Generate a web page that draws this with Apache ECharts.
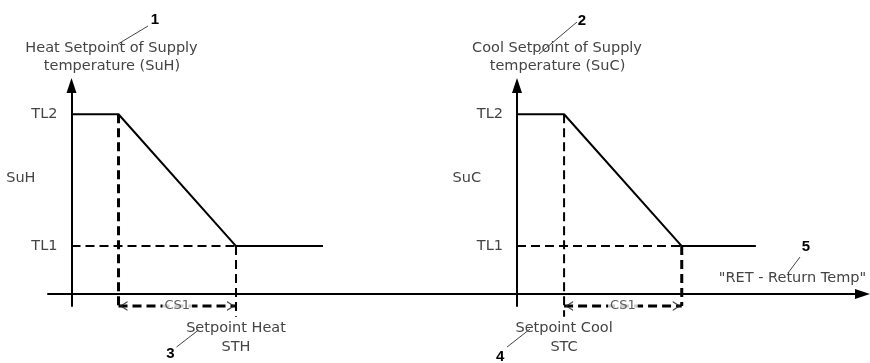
<!DOCTYPE html>
<html>
<head>
<meta charset="utf-8">
<script src="https://cdn.jsdelivr.net/npm/echarts@6/dist/echarts.min.js"></script>
<style>
  html, body { margin: 0; padding: 0; background: #fff; }
  #chart { width: 870px; height: 363px; }
</style>
</head>
<body>
<div id="chart"></div>
<script>
// Supply-temperature limits marked on both vertical axes
const limitNames = ['TL1', 'TL2'];
const limitValues = [4, 15];

// Heating: supply setpoint (SuH) against return temperature
const heatReturn = [0, 4, 14, 21.4];
const heatSupply = [15, 15, 4, 4];
const heatSetpoint = 14;   // STH
const heatBand = 10;       // CS1

// Cooling: supply setpoint (SuC) against return temperature
const coolReturn = [0, 4, 14, 20.3];
const coolSupply = [15, 15, 4, 4];
const coolSetpoint = 4;    // STC
const coolBand = 10;       // CS1

// How far the guide lines drop below the return-temperature axis
const dimLineY = -1;
const guideDrop = -1.9;

const FONT = '"DejaVu Sans", "Liberation Sans", Arial, sans-serif';
const TEXT = '#444';

const zip = (xs, ys) => xs.map((x, i) => [x, ys[i]]);
const tl1 = limitValues[0], tl2 = limitValues[1];

// thin open chevrons for the CS1 dimension line
const chevronLeft = 'path://M10,0 L0,5 L10,10 L10,8.4 L2.8,5 L10,1.6 Z';
const chevronRight = 'path://M0,0 L10,5 L0,10 L0,8.4 L7.2,5 L0,1.6 Z';

function axisPair(g, xMin, xMax, arrowX, labelMargin) {
  const lineStyle = { color: '#000', width: 2 };
  return {
    x: {
      gridIndex: g, type: 'value', min: xMin, max: xMax,
      axisLine: { show: true, onZero: true, lineStyle,
        symbol: arrowX ? ['none', 'triangle'] : 'none', symbolSize: [10, 15] },
      axisTick: { show: false }, axisLabel: { show: false }, splitLine: { show: false }
    },
    y: {
      gridIndex: g, type: 'value', min: -1, max: 17.4,
      axisLine: { show: true, onZero: true, lineStyle,
        symbol: ['none', 'triangle'], symbolSize: [10, 15] },
      axisTick: { show: false },
      splitLine: { show: false },
      axisLabel: {
        show: true, customValues: limitValues, margin: labelMargin,
        color: TEXT, fontSize: 14.5, fontFamily: FONT,
        formatter: v => limitNames[limitValues.indexOf(v)] || ''
      }
    }
  };
}

function dashed(g, pts, width, z) {
  return {
    type: 'line', xAxisIndex: g, yAxisIndex: g, data: pts, symbol: 'none',
    clip: false, silent: true, z: z || 2, animation: false,
    lineStyle: { color: '#000', width, type: [9, 5] }
  };
}

function panelSeries(g, xs, ys, lowX, highX, guideWidths, guideEnds) {
  return [
    dashed(g, [[0, tl1], [highX, tl1]], 2),
    dashed(g, [[lowX, tl2], [lowX, guideEnds[0]]], guideWidths[0]),
    dashed(g, [[highX, tl1], [highX, guideEnds[1]]], guideWidths[1]),
    dashed(g, [[lowX, dimLineY], [highX, dimLineY]], 3, 3),
    {
      type: 'scatter', xAxisIndex: g, yAxisIndex: g, clip: false, silent: true, z: 4,
      itemStyle: { color: '#222' },
      data: [
        { value: [lowX, dimLineY], symbol: chevronLeft, symbolSize: [8, 10], symbolOffset: [5, 0] },
        { value: [highX, dimLineY], symbol: chevronRight, symbolSize: [8, 10], symbolOffset: [-5, 0] }
      ]
    },
    {
      type: 'scatter', xAxisIndex: g, yAxisIndex: g, clip: false, silent: true, z: 5,
      symbolSize: 1, itemStyle: { color: 'rgba(0,0,0,0)' },
      data: [[(lowX + highX) / 2, dimLineY]],
      label: { show: true, position: 'inside', formatter: 'CS1', color: '#333',
        fontSize: 13, fontFamily: FONT, backgroundColor: '#fff', padding: [1, 2] }
    },
    {
      type: 'line', xAxisIndex: g, yAxisIndex: g, data: zip(xs, ys), symbol: 'none',
      clip: false, silent: true, z: 6, animation: false,
      lineStyle: { color: '#000', width: 2 }
    }
  ];
}

// tick labels are laid out from the grid edge; the left grid starts 23.5px before its axis
const left = axisPair(0, -2, 37.91, false, -9.5);
const right = axisPair(1, 0, 29.36, true, 14);

const chart = echarts.init(document.getElementById('chart'), null, { renderer: 'canvas' });
chart.setOption({
  animation: false,
  backgroundColor: '#fff',
  grid: [
    { left: 48, right: 353, top: 85.5, bottom: 57, containLabel: false, outerBoundsMode: 'none' },
    { left: 517, right: 7.5, top: 85.5, bottom: 57, containLabel: false, outerBoundsMode: 'none' }
  ],
  xAxis: [left.x, right.x],
  yAxis: [left.y, right.y],
  series: [
    ...panelSeries(0, heatReturn, heatSupply, heatSetpoint - heatBand, heatSetpoint, [3, 2], [dimLineY, guideDrop]),
    ...panelSeries(1, coolReturn, coolSupply, coolSetpoint, coolSetpoint + coolBand, [2, 3], [guideDrop, dimLineY])
  ]
});

// Annotations placed relative to the axes they describe
const px = (g, x, y) => chart.convertToPixel({ gridIndex: g }, [x, y]);

function text(x, y, str, opts) {
  opts = opts || {};
  const align = opts.align || 'center';
  return {
    type: 'text', x, y, silent: true, z: 10,
    style: {
      text: str, font: opts.font || ('14.5px ' + FONT), fill: opts.fill || TEXT,
      align, textAlign: align, verticalAlign: 'middle', textVerticalAlign: 'middle'
    }
  };
}
function tag(x, y, str) {
  return text(x, y, str, { font: 'bold 15px "Liberation Sans", Arial, sans-serif', fill: '#000' });
}
function leader(x1, y1, x2, y2) {
  return { type: 'line', silent: true, z: 10,
    shape: { x1, y1, x2, y2 }, style: { stroke: '#444', lineWidth: 1 } };
}

const panels = [
  { g: 0, title: ['Heat Setpoint of Supply', 'temperature (SuH)'], name: 'SuH',
    num: '1', numAt: [83.5, -65.5], numLine: [76.5, -59.5, 46.5, -41.5],
    sp: heatSetpoint, spText: ['Setpoint Heat', 'STH'],
    spNum: '3', spNumAt: [-65.5, 354], spNumLine: [-59.5, 347, -37.5, 330] },
  { g: 1, title: ['Cool Setpoint of Supply', 'temperature (SuC)'], name: 'SuC',
    num: '2', numAt: [65, -64.5], numLine: [60, -63.5, 22, -31.5],
    sp: coolSetpoint, spText: ['Setpoint Cool', 'STC'],
    spNum: '4', spNumAt: [-64, 357], spNumLine: [-57, 347, -34, 329] }
];

const graphics = [];
panels.forEach(p => {
  const top = px(p.g, 0, 17.4);
  const ax = top[0], ay = top[1];
  const midY = px(p.g, 0, 9.7)[1];
  graphics.push(
    text(ax + 40, ay - 37.5, p.title[0]),
    text(ax + 40.5, ay - 19.5, p.title[1]),
    text(ax - 36, midY, p.name, { align: 'right' }),
    tag(ax + p.numAt[0], ay + p.numAt[1], p.num),
    leader(ax + p.numLine[0], ay + p.numLine[1], ax + p.numLine[2], ay + p.numLine[3])
  );
  const sx = px(p.g, p.sp, 0)[0];
  graphics.push(
    text(sx, 328, p.spText[0]),
    text(sx, 347, p.spText[1]),
    tag(sx + p.spNumAt[0], p.spNumAt[1], p.spNum),
    leader(sx + p.spNumLine[0], p.spNumLine[1], sx + p.spNumLine[2], p.spNumLine[3])
  );
});

// Return-temperature axis caption at the arrow end
const xEnd = px(1, 29.36, 0);
graphics.push(
  text(xEnd[0] - 70, xEnd[1] - 16, '"RET - Return Temp"'),
  tag(xEnd[0] - 56.5, xEnd[1] - 47, '5'),
  leader(xEnd[0] - 62.5, xEnd[1] - 37, xEnd[0] - 74.5, xEnd[1] - 21)
);

chart.setOption({ graphic: { elements: graphics } });
</script>
</body>
</html>
